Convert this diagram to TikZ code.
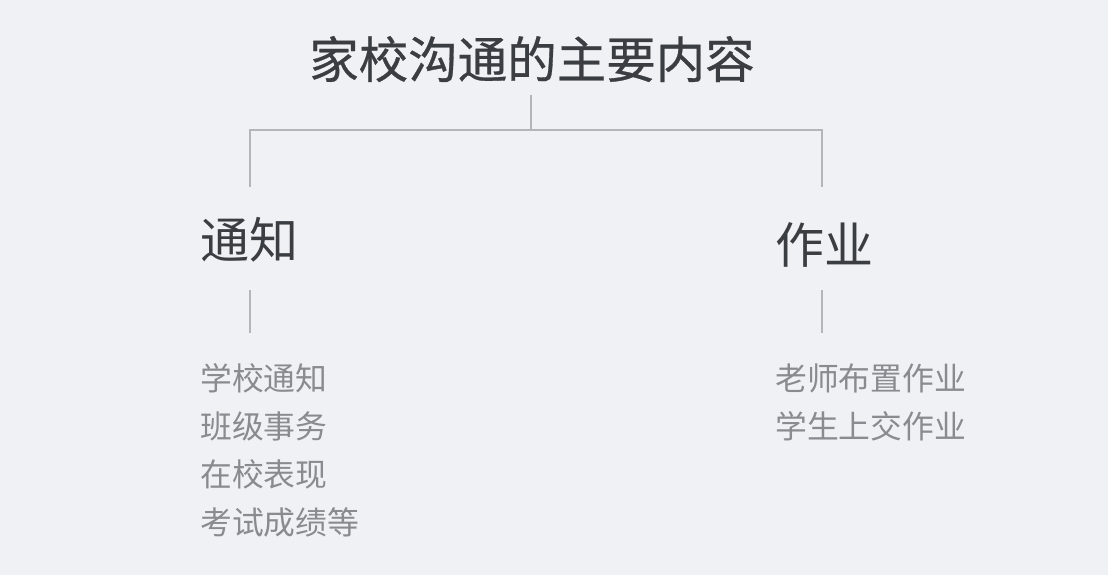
\documentclass[tikz,border=0pt]{standalone}
\usepackage{fontspec}
\setmainfont{Noto Sans CJK SC}
\newfontfamily\titlefont[FakeBold=0.6]{Noto Sans CJK SC}
\usepackage{xcolor}
\definecolor{bgcol}{HTML}{F0F1F5}
\definecolor{headcol}{HTML}{3A3D42}
\definecolor{itemcol}{HTML}{8A8B90}
\definecolor{linecol}{HTML}{B4B5BA}

\tikzset{
  title/.style={anchor=base, inner sep=0pt, text=headcol, font=\titlefont\fontsize{49.5}{49.5}\selectfont},
  branch/.style={anchor=base west, inner sep=0pt, text=headcol, font=\fontsize{49}{49}\selectfont},
  item/.style={anchor=base west, inner sep=0pt, text=itemcol, font=\fontsize{31.8}{31.8}\selectfont},
  link/.style={draw=linecol, line width=1.6pt}
}

\begin{document}
\begin{tikzpicture}[x=1pt, y=-1pt]
    %% background
    \fill[bgcol] (0,0) rectangle (1108,575);
    \useasboundingbox (0,0) rectangle (1108,575);

    %% title
    \node[title] (top) at (532,78) {家校沟通的主要内容};

    %% branches
    \node[branch] (notice) at (200,258) {通知};
    \node[branch] (work)   at (775,263) {作业};

    %% tree lines
    \coordinate (topfoot) at (531,95);
    \coordinate (mid)     at (531,130);
    \coordinate (leftup)  at (250,187);
    \coordinate (rightup) at (822,187);
    \draw[link] (topfoot) -- (mid);
    \draw[link] (leftup) |- (mid) -| (rightup);

    %% notice items
    \coordinate (leftdown)  at (250,290);
    \coordinate (leftlist)  at (250,333);
    \draw[link] (leftdown) -- (leftlist);
    \node[item] (n1) at (200,390) {学校通知};
    \node[item] (n2) at (200,438) {班级事务};
    \node[item] (n3) at (200,486) {在校表现};
    \node[item] (n4) at (200,534) {考试成绩等};

    %% work items
    \coordinate (rightdown) at (822,290);
    \coordinate (rightlist) at (822,333);
    \draw[link] (rightdown) -- (rightlist);
    \node[item] (w1) at (775,390) {老师布置作业};
    \node[item] (w2) at (775,438) {学生上交作业};
\end{tikzpicture}
\end{document}
